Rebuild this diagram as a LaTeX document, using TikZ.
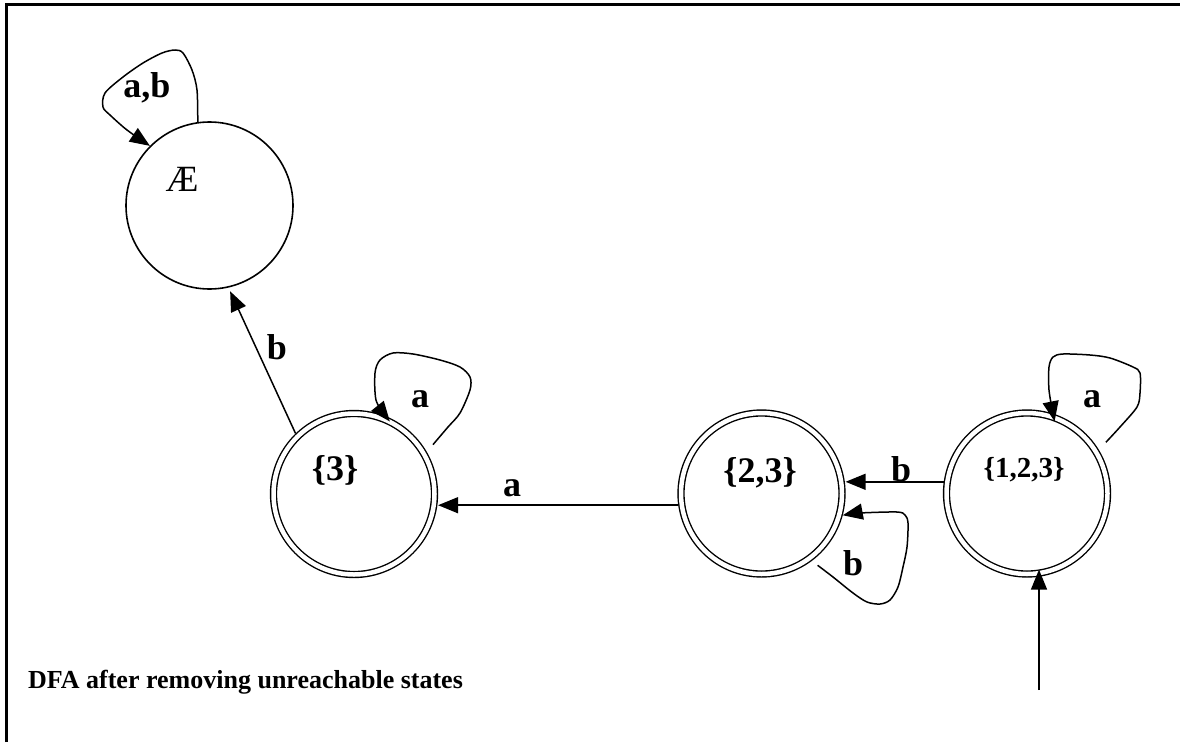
\documentclass[tikz,border=0pt]{standalone}
\usepackage{fontspec}
\setmainfont{Liberation Serif}
\usetikzlibrary{arrows.meta}

\tikzset{
  onestate/.style={circle, draw, line width=1.6pt, minimum size=167pt, inner sep=0pt, outer sep=0.8pt},
  twostate/.style={circle, draw, double, double distance=4.5pt, line width=1.4pt, minimum size=161pt, inner sep=0pt, outer sep=3.6pt},
  arr/.style={line width=1.5pt, -{Triangle[length=20pt,width=16pt]}},
  edgelab/.style={font=\fontsize{36}{42}\selectfont\bfseries, inner sep=0pt},
  statelab/.style={font=\fontsize{36}{42}\selectfont\bfseries, inner sep=0pt},
}

\begin{document}
\begin{tikzpicture}[x=1pt, y=-1pt]
  \useasboundingbox (0,0) rectangle (1180,742);
  \draw[line width=2.5pt] (6.5,742) -- (6.5,4.5) -- (1180,4.5);

  \node[onestate] (ae) at (209.5,205.5) {};
  \node[twostate] (s3) at (354,494) {};
  \node[twostate] (s23) at (761.5,493.5) {};
  \node[twostate] (s123) at (1027,493.5) {};

  % state names
  \node[font=\fontsize{37}{42}\selectfont, inner sep=0pt] (aename) at (182,179) {Æ};
  \node[statelab] (s3name) at (335,470) {\{3\}};
  \node[statelab] (s23name) at (760,473) {\{2,3\}};
  \node[statelab, font=\fontsize{29}{34}\selectfont\bfseries] (s123name) at (1024,470) {\{1,2,3\}};

  % transitions
  \draw[arr, shorten >=4pt] (s3.134) -- (ae.-77);
  \draw[arr] (s23.188) -- (s23.188 -| s3.east);
  \draw[arr] (s123.172) -- (s123.172 -| s23.east);

  % loops
  \coordinate (ael) at (ae.98);
  \draw[arr] plot[smooth] coordinates {(ael) (197,90) (192,70) (183,53) (175,50) (162,53) (143,63) (123,77) (105,93) (103,107) (110,115) (127,130) (ae.135)};
  \coordinate (s3l) at ([shift={(32:9pt)}]s3.32);
  \draw[arr, shorten >=-7pt] plot[smooth] coordinates {(s3l) (448,427) (460,413) (470,390) (470,377) (460,367) (440,360) (413,354) (393,353) (380,360) (375,373) (376,400) (s3.68)};
  \coordinate (s23l) at ([shift={(-52:7pt)}]s23.-52);
  \draw[arr] plot[smooth] coordinates {(s23l) (833,577) (853,593) (867,602) (880,604) (890,600) (898,587) (903,567) (907,547) (908,523) (905,515) (897,512) (860,513) (s23.-15)};
  \coordinate (s123l) at ([shift={(33:10pt)}]s123.33);
  \draw[arr, shorten >=-8pt] plot[smooth] coordinates {(s123l) (1120,427) (1137,407) (1140,393) (1140,373) (1133,367) (1110,358) (1090,355) (1063,354) (1053,357) (1049,367) (1049,390) (s123.72)};

  % start
  \coordinate (init) at (1039,690);
  \draw[arr, shorten >=-8pt] (init) -- (init |- s123.south);

  % labels
  \node[edgelab] (abl) at (147,88) {a,b};
  \node[edgelab] (bl1) at (277,347) {b};
  \node[edgelab] (al1) at (420,399) {a};
  \node[edgelab] (al2) at (512,488) {a};
  \node[edgelab] (bl2) at (901,469) {b};
  \node[edgelab] (bl3) at (853,563) {b};
  \node[edgelab] (al3) at (1092,399) {a};

  \node[anchor=base west, font=\fontsize{26}{31}\selectfont\bfseries, inner sep=0pt] (caption) at (28,688) {DFA after removing unreachable states};
\end{tikzpicture}
\end{document}
